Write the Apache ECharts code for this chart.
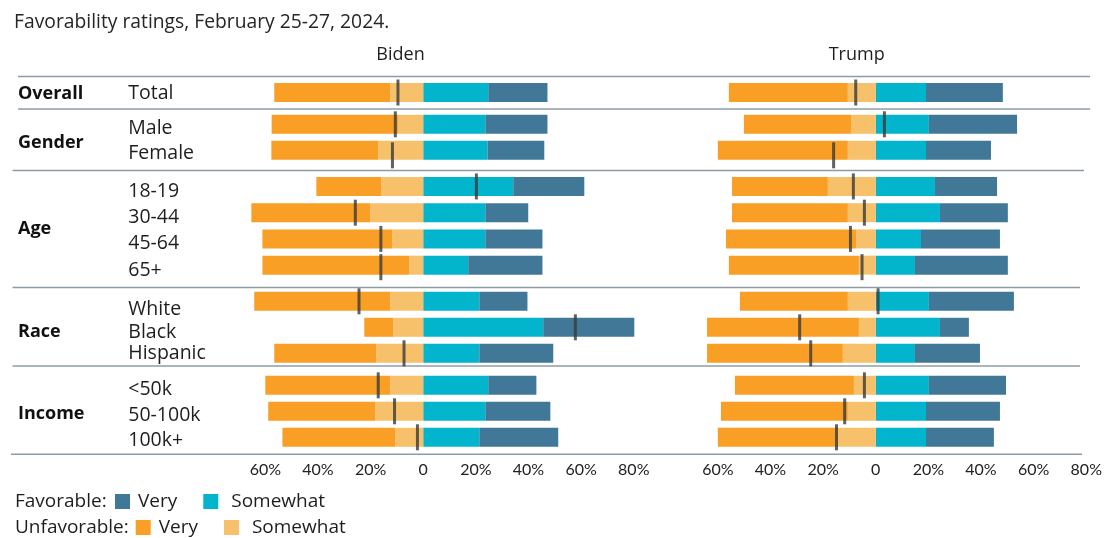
<!DOCTYPE html>
<html>
<head>
<meta charset="utf-8">
<script src="https://cdn.jsdelivr.net/npm/echarts@6/dist/echarts.min.js"></script>
<style>
  html, body { margin: 0; padding: 0; background: #fff; }
  #chart { width: 1120px; height: 538px; }
</style>
</head>
<body>
<div id="chart"></div>
<script>
// Row categories, grouped by demographic
const categories = ['Total', 'Male', 'Female', '18-19', '30-44', '45-64', '65+',
                    'White', 'Black', 'Hispanic', '<50k', '50-100k', '100k+'];
const groupNames = ['Overall', 'Gender', 'Age', 'Race', 'Income'];
const groupSizes = [1, 2, 4, 3, 3];
const tickLabels = [-60, -40, -20, 0, 20, 40, 60, 80];

// Biden favorability (percent)
const bidenUnfavVery = [44.1, 48.0, 40.6, 24.7, 45.2, 49.4, 55.8, 51.7, 11.0, 38.8, 47.5, 40.7, 42.9];
const bidenUnfavSome = [12.5, 9.6, 17.1, 15.9, 20.1, 11.7, 5.3, 12.5, 11.4, 17.8, 12.5, 18.2, 10.6];
const bidenFavSome   = [24.7, 23.6, 24.4, 34.2, 23.6, 23.6, 17.1, 21.3, 45.6, 21.3, 24.7, 23.6, 21.3];
const bidenFavVery   = [22.5, 23.6, 21.6, 27.0, 16.3, 21.7, 28.2, 18.3, 34.6, 28.1, 18.3, 24.7, 30.0];
const bidenNet       = [-9.6, -10.6, -11.7, 20.2, -25.8, -16.1, -16.1, -24.4, 57.8, -7.3, -17.1, -10.9, -2.2];

// Trump favorability (percent)
const trumpUnfavVery = [45.2, 40.7, 49.4, 36.4, 44.0, 49.4, 49.4, 41.0, 57.7, 51.6, 45.2, 48.2, 45.6];
const trumpUnfavSome = [10.6, 9.4, 10.6, 18.2, 10.6, 7.5, 6.4, 10.6, 6.4, 12.5, 8.3, 10.6, 14.4];
const trumpFavSome   = [19.1, 20.2, 19.1, 22.5, 24.4, 17.2, 14.9, 20.2, 24.4, 14.9, 20.2, 19.1, 19.1];
const trumpFavVery   = [29.2, 33.5, 24.7, 23.6, 25.8, 30.0, 35.3, 32.3, 11.0, 24.7, 29.3, 28.1, 25.8];
const trumpNet       = [-7.6, 3.3, -16.0, -8.5, -4.3, -9.6, -5.2, 0.9, -28.9, -24.7, -4.3, -11.8, -14.9];

// ---- styling / layout ----
const COLORS = { favVery: '#417897', favSome: '#02B4CC', unfVery: '#F99F25', unfSome: '#F6C16A' };
const LEGEND_TEXT = { favVery: 'Very', favSome: ' Somewhat', unfVery: 'Very', unfSome: ' Somewhat' };
const FONT = '"Open Sans", "Noto Sans", sans-serif';
const TICK_FONT = 'Lato, "Open Sans", sans-serif';
const TEXT_COLOR = '#1e1e1e';
const RULE_COLOR = '#8e9ca6';

const panels = [
  { title: 'Biden', left: 239.0, titleX: 400.5, data: [bidenFavSome, bidenFavVery, bidenUnfavSome, bidenUnfavVery, bidenNet] },
  { title: 'Trump', left: 691.5, titleX: 856.7, data: [trumpFavSome, trumpFavVery, trumpUnfavSome, trumpUnfavVery, trumpNet] }
];
const PANEL_W = 421.1;                       // spans -70 .. 90
const bands = [                              // top / height of each group block
  { top: 79.5, h: 26 }, { top: 111.3, h: 52 }, { top: 173.3, h: 105 },
  { top: 288.3, h: 78 }, { top: 372.3, h: 78 }
];
const groupLabelY = [94, 143.2, 228.8, 332.2, 414.2];
// vertical nudge (px, downward) of each row label relative to its bar
const rowLabelShift = [0.7, 3.7, 3.2, 5.1, 4.8, 4.3, 5.3, 7.9, 4.9, -0.1, 3.9, 3.9, 3.2];
const markerShift   = [0, 0, 5, 0, 0, 0, 2, 0, 0, 0, 0, 0, 0];
const rules = [
  { y: 76.5, x1: 18, x2: 1090 }, { y: 109, x1: 18, x2: 1090 },
  { y: 170.5, x1: 12.5, x2: 1084 }, { y: 287.5, x1: 12.5, x2: 1080 },
  { y: 366, x1: 12.5, x2: 1080 }, { y: 454.3, x1: 11, x2: 1082 }
];

// rich styles giving each row label its own nudge
const rowRich = {};
rowLabelShift.forEach((s, i) => {
  const pad = s >= 0 ? [2 * s, 0, 0, 0] : [0, 0, -2 * s, 0];
  rowRich['r' + i] = { fontFamily: FONT, fontSize: 19.5, color: TEXT_COLOR, align: 'left', padding: pad };
});

const grid = [], xAxis = [], yAxis = [], series = [];
const seriesKeys = ['favSome', 'favVery', 'unfSome', 'unfVery'];

panels.forEach((panel, p) => {
  let start = 0;
  groupSizes.forEach((size, g) => {
    const idx = grid.length;
    const band = bands[g];
    const isBottom = g === groupSizes.length - 1;
    const first = start;
    grid.push({ left: panel.left, width: PANEL_W, top: band.top, height: band.h });
    xAxis.push({
      type: 'value', gridIndex: idx, min: -70, max: 90, interval: 10,
      axisLine: { show: false }, axisTick: { show: false }, splitLine: { show: false },
      axisLabel: {
        show: isBottom, margin: 12, fontFamily: TICK_FONT, fontSize: 16, color: '#222',
        formatter: v => tickLabels.includes(v) ? (v === 0 ? '0' : Math.abs(v) + '%') : ''
      }
    });
    yAxis.push({
      type: 'category', gridIndex: idx, inverse: true,
      data: categories.slice(start, start + size),
      axisLine: { show: false }, axisTick: { show: false }, splitLine: { show: false },
      axisLabel: {
        show: p === 0, align: 'left', margin: 239.0 - 128.3,
        formatter: (value, i) => '{r' + (first + i) + '|' + value + '}',
        rich: rowRich
      }
    });
    seriesKeys.forEach((key, k) => {
      const vals = panel.data[k].slice(start, start + size);
      series.push({
        type: 'bar', name: key, xAxisIndex: idx, yAxisIndex: idx,
        stack: 'row' + idx, barWidth: 19,
        itemStyle: { color: COLORS[key] },
        data: key.startsWith('unf') ? vals.map(v => -v) : vals
      });
    });
    series.push({
      type: 'scatter', name: 'net', xAxisIndex: idx, yAxisIndex: idx,
      symbol: 'rect', symbolSize: [3, 26], z: 5, silent: true,
      itemStyle: { color: '#3a3a3a' },
      data: panel.data[4].slice(start, start + size).map((v, i) => ({
        value: [v, i], symbolOffset: [0, markerShift[start + i]]
      }))
    });
    start += size;
  });
});

const graphic = [];
rules.forEach(r => graphic.push({
  type: 'line', silent: true,
  shape: { x1: r.x1, y1: r.y, x2: r.x2, y2: r.y },
  style: { stroke: RULE_COLOR, lineWidth: 1.5 }
}));
groupNames.forEach((name, g) => graphic.push({
  type: 'text', silent: true, x: 18, y: groupLabelY[g],
  style: { text: name, fill: '#111', font: 'bold 18px ' + FONT, verticalAlign: 'middle' }
}));
panels.forEach(panel => graphic.push({
  type: 'text', silent: true, x: panel.titleX, y: 55,
  style: { text: panel.title, fill: TEXT_COLOR, font: '18px ' + FONT, align: 'center', verticalAlign: 'middle' }
}));
graphic.push({
  type: 'text', silent: true, x: 15, y: 502,
  style: { text: 'Favorable:', fill: TEXT_COLOR, font: '19px ' + FONT, verticalAlign: 'middle' }
});
graphic.push({
  type: 'text', silent: true, x: 15, y: 528,
  style: { text: 'Unfavorable:', fill: TEXT_COLOR, font: '19px ' + FONT, verticalAlign: 'middle' }
});

const legendBase = {
  orient: 'horizontal', icon: 'rect', itemWidth: 15, itemHeight: 15, itemGap: 26,
  selectedMode: false, padding: 0,
  textStyle: { fontFamily: FONT, fontSize: 19, color: TEXT_COLOR, padding: [0, 0, 0, 3] },
  formatter: name => LEGEND_TEXT[name]
};

const option = {
  animation: false,
  backgroundColor: '#fff',
  title: {
    text: 'Favorability ratings, February 25-27, 2024.',
    left: 14, top: 13, padding: 0,
    textStyle: { fontFamily: FONT, fontSize: 19.3, fontWeight: 'normal', color: '#262626' }
  },
  legend: [
    Object.assign({}, legendBase, { left: 115, top: 492, data: ['favVery', 'favSome'] }),
    Object.assign({}, legendBase, { left: 135.7, top: 518, data: ['unfVery', 'unfSome'] })
  ],
  grid, xAxis, yAxis, series, graphic
};

echarts.init(document.getElementById('chart'), null, { renderer: 'canvas' }).setOption(option);
</script>
</body>
</html>
